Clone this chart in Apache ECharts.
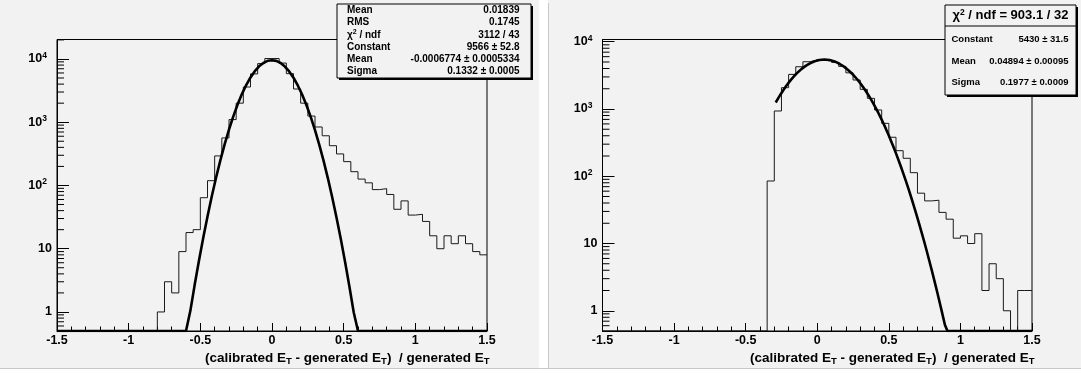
<!DOCTYPE html>
<html>
<head>
<meta charset="utf-8">
<script src="https://cdn.jsdelivr.net/npm/echarts@6/dist/echarts.min.js"></script>
<style>
  html, body { margin: 0; padding: 0; background: #ffffff; }
  #chart { width: 1081px; height: 373px; }
</style>
</head>
<body>
<div id="chart"></div>
<script>
// Binning shared by both histograms: 60 bins of width 0.05 on [-1.5, 1.5]
const BIN_START = -1.5;
const BIN_WIDTH = 0.05;
const X_RANGE = [-1.5, 1.5];

// Left pad: entries per bin
const countsLeft = [
  0, 0, 0, 0, 0, 0, 0, 0, 0, 0, 0, 0, 0, 0,
  1, 3, 2, 9, 18, 20, 64, 119, 293, 564,
  1100, 2000, 3600, 5800, 8440, 10150, 10150, 8600, 5860, 3350,
  2000, 1250, 840, 610, 425, 315, 238, 165, 126, 110,
  86, 89, 72, 42, 57, 34, 35, 27, 16, 10,
  16, 12, 16, 12, 9, 8
];

// Right pad: entries per bin
const countsRight = [
  0, 0, 0, 0, 0, 0, 0, 0, 0, 0, 0, 0, 0, 0, 0, 0, 0, 0, 0, 0, 0, 0, 0,
  85, 934, 2075, 3270, 4250, 5045, 5340, 5430, 5340, 4930,
  4300, 3450, 2700, 1960, 1440, 967, 612, 380, 240, 185,
  113, 56, 43, 44, 29, 23, 12, 13, 10, 14,
  2, 5, 3, 1, 0, 2, 2
];

// Gaussian fit parameters [Constant, Mean, Sigma] and drawing range
const fitLeft = [9566, -0.0006774, 0.1332];
const fitRight = [5430, 0.04894, 0.1977];
const fitRangeLeft = [-1.5, 1.5];
const fitRangeRight = [-0.29, 1.5];

// Vertical (log) ranges
const yRangeLeft = [0.5, 20300];
const yRangeRight = [0.5, 10800];

// Minor log ticks (2..9 per decade, plus 0.6..0.9 below 1)
const minorTickValues = [0.6, 0.7, 0.8, 0.9,
  2, 3, 4, 5, 6, 7, 8, 9,
  20, 30, 40, 50, 60, 70, 80, 90,
  200, 300, 400, 500, 600, 700, 800, 900,
  2000, 3000, 4000, 5000, 6000, 7000, 8000, 9000,
  20000];

// Stat box texts
const statLeftLabels = ['Mean', 'RMS', 'CHI', 'Constant', 'Mean', 'Sigma'];
const statLeftValues = ['0.01839', '0.1745', '3112 / 43', '9566 \u00b1 52.8',
  '-0.0006774 \u00b1 0.0005334', '0.1332 \u00b1 0.0005'];
const statRightHeader = ['903.1', '32'];
const statRightLabels = ['Constant', 'Mean', 'Sigma'];
const statRightValues = ['5430 \u00b1 31.5', '0.04894 \u00b1 0.00095', '0.1977 \u00b1 0.0009'];

const FONT = 'Liberation Sans, Arial, Helvetica, sans-serif';
const BG = '#f2f2f2';

function histPoints(counts, yMin) {
  const pts = counts.map((c, i) => [BIN_START + i * BIN_WIDTH, c > 0 ? c : yMin]);
  pts.push([BIN_START + counts.length * BIN_WIDTH, counts[counts.length - 1] > 0 ? counts[counts.length - 1] : yMin]);
  return pts;
}

// Fitted Gaussian sampled over its range (100 segments), floored at the axis minimum
function gaussPoints(par, range, yMin) {
  const pts = [];
  const n = 100;
  for (let i = 0; i <= n; i++) {
    const x = range[0] + (range[1] - range[0]) * i / n;
    const z = (x - par[1]) / par[2];
    const y = par[0] * Math.exp(-0.5 * z * z);
    pts.push([x, Math.max(y, yMin)]);
  }
  return pts;
}

function yLabel(v) {
  const l = Math.log10(v);
  const k = Math.round(l);
  if (Math.abs(l - k) > 1e-6) return '';
  if (k === 0) return '1';
  if (k === 1) return '10';
  return '{b|10}{s|' + k + '}';
}

const labelRich = {
  b: { fontSize: 12.5, fontWeight: 'bold', fontFamily: FONT, color: '#000', lineHeight: 16 },
  s: { fontSize: 8.5, fontWeight: 'bold', fontFamily: FONT, color: '#000', lineHeight: 9,
       verticalAlign: 'top', padding: [0, 5, 0, 0] }
};

function xAxisCfg(gi) {
  return {
    type: 'value', gridIndex: gi, min: X_RANGE[0], max: X_RANGE[1], interval: 0.5,
    axisLine: { show: true, onZero: false, lineStyle: { color: '#000', width: 1 } },
    axisTick: { show: true, inside: true, length: 8, lineStyle: { color: '#000', width: 1 } },
    minorTick: { show: true, splitNumber: 5, length: 4.5, lineStyle: { color: '#000', width: 1 } },
    splitLine: { show: false },
    axisLabel: { fontSize: 12.5, fontWeight: 'bold', fontFamily: FONT, color: '#000', margin: 3 }
  };
}

function yAxisCfg(gi, range) {
  return {
    type: 'log', logBase: 10, gridIndex: gi, min: range[0], max: range[1],
    axisLine: { show: true, onZero: false, lineStyle: { color: '#000', width: 1 } },
    axisTick: { show: true, inside: true, length: 12, lineStyle: { color: '#000', width: 1 } },
    splitLine: { show: false },
    axisLabel: { formatter: yLabel, rich: labelRich, margin: 5, color: '#000',
                 fontSize: 12.5, fontWeight: 'bold', fontFamily: FONT,
                 showMinLabel: false, showMaxLabel: false }
  };
}

function minorTickSeries(gi, range) {
  return {
    type: 'custom', xAxisIndex: gi, yAxisIndex: gi, silent: true, z: 5,
    data: minorTickValues.filter(v => v > range[0] && v < range[1]).map(v => [X_RANGE[0], v]),
    renderItem: function (params, api) {
      const p = api.coord([api.value(0), api.value(1)]);
      return { type: 'line', shape: { x1: p[0], y1: p[1], x2: p[0] + 7, y2: p[1] },
               style: { stroke: '#000', lineWidth: 1 } };
    }
  };
}

function histSeries(gi, counts, range) {
  return {
    type: 'line', xAxisIndex: gi, yAxisIndex: gi, step: 'end', symbol: 'none',
    data: histPoints(counts, range[0]), clip: true, z: 3,
    lineStyle: { color: '#1a1a1a', width: 1 }
  };
}

function fitSeries(gi, par, fr, range) {
  return {
    type: 'line', xAxisIndex: gi, yAxisIndex: gi, symbol: 'none', smooth: false,
    data: gaussPoints(par, fr, range[0]), clip: true, z: 4,
    lineStyle: { color: '#000', width: 2.6 }
  };
}

function xTitle(right, y) {
  return {
    type: 'text', x: right, y: y, z: 10,
    style: {
      text: '{b|(calibrated E}{t|T}{b| - generated E}{t|T}{b|)  / generated E}{t|T}',
      align: 'right', verticalAlign: 'middle',
      rich: {
        b: { fontSize: 13.5, fontWeight: 'bold', fontFamily: FONT, fill: '#000', lineHeight: 16 },
        t: { fontSize: 9.5, fontWeight: 'bold', fontFamily: FONT, fill: '#000', lineHeight: 16,
             verticalAlign: 'bottom', padding: [0, 0, 0, 0] }
      }
    }
  };
}

const statFontL = { fontSize: 10, fontWeight: 'bold', fontFamily: FONT, fill: '#000' };
const statFontR = { fontSize: 9.5, fontWeight: 'bold', fontFamily: FONT, fill: '#000' };

function leftStatBox() {
  const x = 337, y = 4, w = 194, h = 74;
  const rowsY = [10.3, 22.6, 34.8, 47.0, 59.6, 71.6];
  const els = [
    { type: 'rect', shape: { x: x + 2, y: y + 2, width: w, height: h }, style: { fill: '#000' }, z: 20 },
    { type: 'rect', shape: { x: x, y: y, width: w, height: h }, style: { fill: BG, stroke: '#000', lineWidth: 1 }, z: 21 }
  ];
  statLeftLabels.forEach((lab, i) => {
    const lbl = lab === 'CHI'
      ? { text: '{c|\u03c7}{s|2}{c| / ndf}', rich: {
            c: { fontSize: 10, fontWeight: 'bold', fontFamily: FONT, fill: '#000', lineHeight: 12 },
            s: { fontSize: 7, fontWeight: 'bold', fontFamily: FONT, fill: '#000', lineHeight: 12, verticalAlign: 'top' } } }
      : Object.assign({ text: lab }, statFontL);
    els.push({ type: 'text', x: 347, y: rowsY[i], z: 22,
               style: Object.assign({ align: 'left', verticalAlign: 'middle' }, lbl) });
    els.push({ type: 'text', x: 519.5, y: rowsY[i], z: 22,
               style: Object.assign({ text: statLeftValues[i], align: 'right', verticalAlign: 'middle' }, statFontL) });
  });
  return els;
}

function rightStatBox() {
  const x = 945, y = 5, w = 131, h = 90;
  const rowsY = [39.5, 61.2, 82.8];
  const els = [
    { type: 'rect', shape: { x: x + 2, y: y + 2, width: w, height: h }, style: { fill: '#000' }, z: 20 },
    { type: 'rect', shape: { x: x, y: y, width: w, height: h }, style: { fill: BG, stroke: '#000', lineWidth: 1 }, z: 21 },
    { type: 'line', shape: { x1: x, y1: 26, x2: x + w, y2: 26 }, style: { stroke: '#000', lineWidth: 1 }, z: 22 },
    { type: 'text', x: x + w / 2, y: 15.5, z: 22,
      style: { text: '{c|\u03c7}{s|2}{c| / ndf = ' + statRightHeader[0] + ' / ' + statRightHeader[1] + '}',
               align: 'center', verticalAlign: 'middle',
               rich: {
                 c: { fontSize: 13, fontWeight: 'bold', fontFamily: FONT, fill: '#000', lineHeight: 15 },
                 s: { fontSize: 8.5, fontWeight: 'bold', fontFamily: FONT, fill: '#000', lineHeight: 15, verticalAlign: 'top' } } } }
  ];
  statRightLabels.forEach((lab, i) => {
    els.push({ type: 'text', x: 951.5, y: rowsY[i], z: 22,
               style: Object.assign({ text: lab, align: 'left', verticalAlign: 'middle' }, statFontR) });
    els.push({ type: 'text', x: 1068.5, y: rowsY[i], z: 22,
               style: Object.assign({ text: statRightValues[i], align: 'right', verticalAlign: 'middle' }, statFontR) });
  });
  return els;
}

// Pad separators: light strip between the two pads and along the bottom
const padDecor = [
  { type: 'rect', shape: { x: 539, y: 0, width: 9, height: 373 }, style: { fill: '#ffffff' }, z: 1 },
  { type: 'line', shape: { x1: 548.5, y1: 3, x2: 548.5, y2: 368 }, style: { stroke: '#c8c8c8', lineWidth: 1 }, z: 1 },
  { type: 'rect', shape: { x: 0, y: 369, width: 1081, height: 4 }, style: { fill: '#ffffff' }, z: 1 },
  { type: 'line', shape: { x1: 0, y1: 368.5, x2: 1081, y2: 368.5 }, style: { stroke: '#c8c8c8', lineWidth: 1 }, z: 1 }
];

const chart = echarts.init(document.getElementById('chart'));
chart.setOption({
  animation: false,
  backgroundColor: BG,
  grid: [
    { left: 57, top: 39.5, width: 430, height: 291.5, show: true, backgroundColor: BG, borderColor: '#000', borderWidth: 1 },
    { left: 602.5, top: 39.5, width: 429.5, height: 291.5, show: true, backgroundColor: BG, borderColor: '#000', borderWidth: 1 }
  ],
  xAxis: [xAxisCfg(0), xAxisCfg(1)],
  yAxis: [yAxisCfg(0, yRangeLeft), yAxisCfg(1, yRangeRight)],
  series: [
    histSeries(0, countsLeft, yRangeLeft),
    fitSeries(0, fitLeft, fitRangeLeft, yRangeLeft),
    minorTickSeries(0, yRangeLeft),
    histSeries(1, countsRight, yRangeRight),
    fitSeries(1, fitRight, fitRangeRight, yRangeRight),
    minorTickSeries(1, yRangeRight)
  ],
  graphic: [].concat(padDecor, leftStatBox(), rightStatBox(), [xTitle(489.5, 358.5), xTitle(1034.5, 358.5)])
});
</script>
</body>
</html>
